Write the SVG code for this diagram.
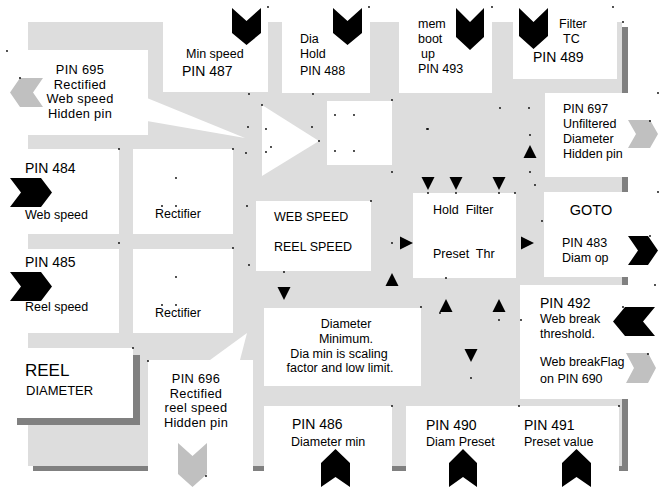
<svg xmlns="http://www.w3.org/2000/svg" width="663" height="487" viewBox="0 0 663 487">
<style>
.bg{fill:#dddddd}
.sh{fill:#808080}
.box{fill:#ffffff}
.blk{fill:#000000}
.gch{fill:#c0c0c0}
.dot{fill:#000000}
text{font-family:"Liberation Sans",Arial,sans-serif;fill:#000000}
.s{font-size:12.5px}
.m{font-size:12.8px;letter-spacing:0.3px}
.l{font-size:14px}
.c{text-anchor:middle}
</style>
<rect width="663" height="487" fill="#ffffff"/>
<g id="frame">
<rect class="sh" x="33" y="27" width="595" height="444"/>
<rect class="bg" x="28" y="22" width="594" height="444"/>
</g>
<g id="pin695">
<rect class="box" x="0" y="50" width="148" height="85"/>
<polygon class="box" points="147,98 245,138 147,121"/>
<polygon class="gch" points="10,92.5 20,78 43,78 33,92.5 43,107 20,107"/>
<text class="m c" x="80" y="74">PIN 695</text>
<text class="m c" x="80" y="88.5">Rectified</text>
<text class="m c" x="80" y="103">Web speed</text>
<text class="m c" x="80" y="117.5">Hidden pin</text>
</g>
<g id="pin487">
<rect class="box" x="163" y="0" width="105" height="92"/>
<polygon class="blk" points="232,8 246.5,21 261,8 261,33 246.5,45 232,33"/>
<text class="s" x="186" y="58">Min speed</text>
<text class="l" x="182" y="76">PIN 487</text>
</g>
<g id="pin488">
<rect class="box" x="282" y="0" width="88" height="93"/>
<polygon class="blk" points="333,8 347.5,21 362,8 362,33 347.5,45 333,33"/>
<text class="s" x="300" y="43">Dia</text>
<text class="s" x="300" y="58">Hold</text>
<text class="s" x="300" y="75">PIN 488</text>
</g>
<g id="pin493">
<rect class="box" x="399" y="0" width="93" height="93"/>
<polygon class="blk" points="456,8 470,22 484,8 484,37 470,50 456,37"/>
<text class="s" x="418" y="28">mem</text>
<text class="s" x="418" y="43">boot</text>
<text class="s" x="421" y="57.5">up</text>
<text class="s" x="418" y="73">PIN 493</text>
</g>
<g id="pin489">
<rect class="box" x="513" y="0" width="104" height="79"/>
<polygon class="blk" points="519,8 533.5,22 548,8 548,36 533.5,49 519,36"/>
<text class="s" x="559" y="28">Filter</text>
<text class="s" x="563" y="43">TC</text>
<text class="l" x="533" y="62">PIN 489</text>
</g>
<g id="pin697">
<rect class="box" x="545" y="93" width="118" height="84"/>
<polygon class="gch" points="628,120 650,120 658,134 650,148 628,148 636,134"/>
<text class="s" x="563" y="113">PIN 697</text>
<text class="s" x="563" y="128">Unfiltered</text>
<text class="s" x="563" y="143">Diameter</text>
<text class="s" x="563" y="158">Hidden pin</text>
</g>
<g id="amplifier">
<polygon class="box" points="262,105 319,141 262,176"/>
</g>
<g id="block">
<rect class="box" x="327" y="101" width="65" height="64"/>
</g>
<g id="pin484">
<rect class="box" x="0" y="149" width="119" height="85"/>
<polygon class="blk" points="10,178 41,178 52,192.5 41,207 10,207 21,192.5"/>
<text class="l" x="25" y="173">PIN 484</text>
<text class="s" x="25" y="219">Web speed</text>
</g>
<g id="rect1">
<rect class="box" x="133" y="149" width="100" height="85"/>
<text class="s c" x="178" y="218">Rectifier</text>
</g>
<g id="pin485">
<rect class="box" x="0" y="249" width="119" height="84"/>
<polygon class="blk" points="10,272 41,272 52,286.5 41,301 10,301 21,286.5"/>
<text class="l" x="25" y="267">PIN 485</text>
<text class="s" x="25" y="311">Reel speed</text>
</g>
<g id="rect2">
<rect class="box" x="133" y="249" width="100" height="84"/>
<text class="s c" x="178" y="317">Rectifier</text>
</g>
<g id="speeds">
<rect class="box" x="256" y="201" width="115" height="70"/>
<text class="s" x="274" y="221">WEB SPEED</text>
<text class="s" x="274" y="251">REEL SPEED</text>
</g>
<g id="hold">
<rect class="box" x="413" y="193" width="103" height="85"/>
<text class="s" x="433" y="214" xml:space="preserve">Hold  Filter</text>
<text class="s" x="433" y="258" xml:space="preserve">Preset  Thr</text>
</g>
<g id="goto">
<rect class="box" x="544" y="192" width="119" height="85"/>
<polygon class="blk" points="628,236 648,236 658,250.5 648,265 628,265 638,250.5"/>
<text class="c" x="591" y="215" font-size="14.5">GOTO</text>
<text class="s" x="562" y="247">PIN 483</text>
<text class="s" x="562" y="261.5">Diam op</text>
</g>
<g id="pin492">
<rect class="box" x="520" y="285" width="143" height="114"/>
<polygon class="blk" points="613,321.5 625,307 655,307 643,321.5 655,336 625,336"/>
<polygon class="gch" points="626,353 648,353 656,368 648,383 626,383 634,368"/>
<text class="l" x="540" y="307.5">PIN 492</text>
<text class="s" x="540" y="323">Web break</text>
<text class="s" x="540" y="338">threshold.</text>
<text class="s" x="540" y="366">Web breakFlag</text>
<text class="s" x="540" y="383">on PIN 690</text>
</g>
<g id="reel">
<rect class="sh" x="17" y="355" width="123" height="70"/>
<rect class="box" x="10" y="348" width="123" height="70"/>
<text x="25" y="376" font-size="17">REEL</text>
<text x="26" y="395" font-size="13">DIAMETER</text>
</g>
<g id="pin696">
<polygon class="box" points="148,360 210,360 247,333 240,360 253,360 253,487 148,487"/>
<polygon class="gch" points="178,443 192.5,456 207,443 207,474 192.5,487 178,474"/>
<text class="m c" x="196" y="383">PIN 696</text>
<text class="m c" x="196" y="397.5">Rectified</text>
<text class="m c" x="196" y="412">reel speed</text>
<text class="m c" x="196" y="427">Hidden pin</text>
</g>
<g id="diamin">
<rect class="box" x="264" y="308" width="157" height="78"/>
<text class="s c" x="346" y="328">Diameter</text>
<text class="s c" x="346" y="343">Minimum.</text>
<text class="s c" x="339" y="357.5">Dia min is scaling</text>
<text class="s c" x="340" y="372">factor and low limit.</text>
</g>
<g id="pin486">
<rect class="box" x="264" y="406" width="128" height="81"/>
<polygon class="blk" points="321,463 335.5,449 350,463 350,487 335.5,477 321,487"/>
<text class="l" x="292" y="429">PIN 486</text>
<text class="s" x="291" y="446">Diameter min</text>
</g>
<g id="pin490">
<rect class="box" x="406" y="406" width="213" height="81"/>
<polygon class="blk" points="449,463 463,449 477,463 477,487 463,477 449,487"/>
<polygon class="blk" points="562,463 576.5,449 591,463 591,487 576.5,477 562,487"/>
<text class="l" x="426" y="430">PIN 490</text>
<text class="s" x="426" y="446">Diam Preset</text>
<text class="l" x="524" y="430">PIN 491</text>
<text class="s" x="524" y="446">Preset value</text>
</g>
<g id="connectors">
<polygon class="blk" points="421.5,177 434.5,177 428,190"/>
<polygon class="blk" points="449.5,177 462.5,177 456,190"/>
<polygon class="blk" points="492.5,177 505.5,177 499,190"/>
<polygon class="blk" points="400,236.5 413,243 400,249.5"/>
<polygon class="blk" points="521,236.5 534,243 521,249.5"/>
<polygon class="blk" points="385.5,286 398.5,286 392,273"/>
<polygon class="blk" points="523.5,158 536.5,158 530,145"/>
<polygon class="blk" points="439.5,312 452.5,312 446,299"/>
<polygon class="blk" points="492.5,312 505.5,312 499,299"/>
<polygon class="blk" points="464.5,349 477.5,349 471,362"/>
<polygon class="blk" points="277.5,287 290.5,287 284,300"/>
</g>
<g id="points">
<circle class="dot" cx="268" cy="7" r="0.9"/><circle class="dot" cx="7" cy="51" r="0.9"/><circle class="dot" cx="20" cy="78" r="0.9"/>
<circle class="dot" cx="249" cy="94" r="0.9"/><circle class="dot" cx="262" cy="105" r="0.9"/><circle class="dot" cx="248" cy="127" r="0.9"/>
<circle class="dot" cx="266" cy="129" r="0.9"/><circle class="dot" cx="313" cy="94" r="0.9"/><circle class="dot" cx="312" cy="127" r="0.9"/>
<circle class="dot" cx="319" cy="141" r="0.9"/><circle class="dot" cx="119" cy="149" r="0.9"/><circle class="dot" cx="233" cy="149" r="0.9"/>
<circle class="dot" cx="246" cy="153" r="0.9"/><circle class="dot" cx="266" cy="152" r="0.9"/><circle class="dot" cx="271" cy="147" r="0.9"/>
<circle class="dot" cx="369" cy="7" r="0.9"/><circle class="dot" cx="492" cy="7" r="0.9"/><circle class="dot" cx="613" cy="7" r="0.9"/>
<circle class="dot" cx="623" cy="22" r="0.9"/><circle class="dot" cx="658" cy="93" r="0.9"/><circle class="dot" cx="392" cy="100" r="0.9"/>
<circle class="dot" cx="500" cy="108" r="0.9"/><circle class="dot" cx="529" cy="108" r="0.9"/><circle class="dot" cx="427" cy="129" r="0.9"/>
<circle class="dot" cx="530" cy="135" r="0.9"/><circle class="dot" cx="650" cy="121" r="0.9"/><circle class="dot" cx="335" cy="115" r="0.9"/>
<circle class="dot" cx="354" cy="115" r="0.9"/><circle class="dot" cx="335" cy="151" r="0.9"/><circle class="dot" cx="354" cy="151" r="0.9"/>
<circle class="dot" cx="392" cy="172" r="0.9"/><circle class="dot" cx="428" cy="129" r="0.9"/><circle class="dot" cx="247" cy="206" r="0.9"/>
<circle class="dot" cx="371" cy="201" r="0.9"/><circle class="dot" cx="176" cy="178" r="0.9"/><circle class="dot" cx="162" cy="206" r="0.9"/>
<circle class="dot" cx="176" cy="206" r="0.9"/><circle class="dot" cx="119" cy="243" r="0.9"/><circle class="dot" cx="233" cy="248" r="0.9"/>
<circle class="dot" cx="249" cy="265" r="0.9"/><circle class="dot" cx="284" cy="272" r="0.9"/><circle class="dot" cx="176" cy="277" r="0.9"/>
<circle class="dot" cx="162" cy="305" r="0.9"/><circle class="dot" cx="176" cy="305" r="0.9"/><circle class="dot" cx="530" cy="172" r="0.9"/>
<circle class="dot" cx="535" cy="185" r="0.9"/><circle class="dot" cx="428" cy="193" r="0.9"/><circle class="dot" cx="456" cy="193" r="0.9"/>
<circle class="dot" cx="499" cy="193" r="0.9"/><circle class="dot" cx="515" cy="193" r="0.9"/><circle class="dot" cx="392" cy="243" r="0.9"/>
<circle class="dot" cx="542" cy="221" r="0.9"/><circle class="dot" cx="446" cy="278" r="0.9"/><circle class="dot" cx="658" cy="192" r="0.9"/>
<circle class="dot" cx="650" cy="236" r="0.9"/><circle class="dot" cx="655" cy="285" r="0.9"/><circle class="dot" cx="421" cy="307" r="0.9"/>
<circle class="dot" cx="499" cy="320" r="0.9"/><circle class="dot" cx="521" cy="320" r="0.9"/><circle class="dot" cx="471" cy="378" r="0.9"/>
<circle class="dot" cx="392" cy="406" r="0.9"/><circle class="dot" cx="519" cy="406" r="0.9"/><circle class="dot" cx="619" cy="406" r="0.9"/>
<circle class="dot" cx="648" cy="354" r="0.9"/><circle class="dot" cx="623" cy="307" r="0.9"/><circle class="dot" cx="133" cy="348" r="0.9"/>
<circle class="dot" cx="148" cy="361" r="0.9"/><circle class="dot" cx="206" cy="476" r="0.9"/><circle class="dot" cx="440" cy="313" r="0.9"/>
</g>
</svg>
